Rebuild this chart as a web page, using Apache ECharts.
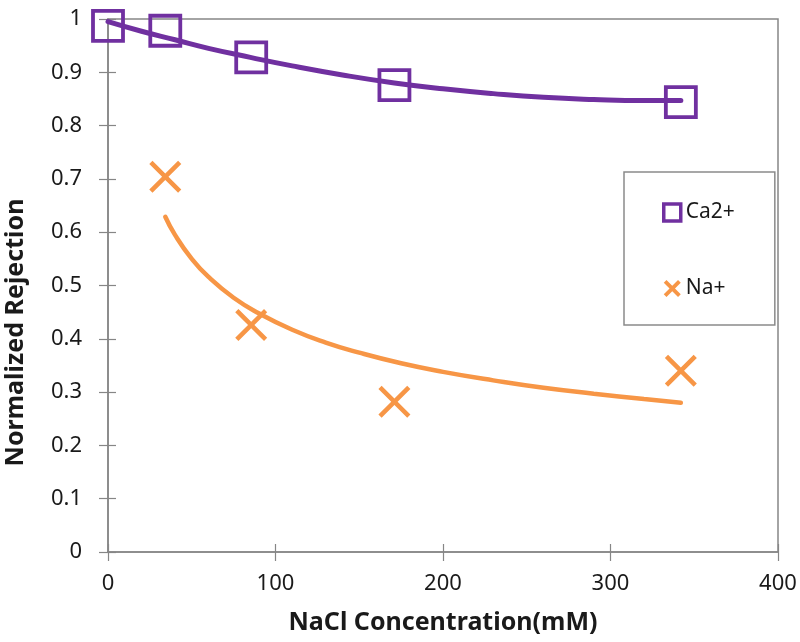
<!DOCTYPE html>
<html>
<head>
<meta charset="utf-8">
<script src="https://cdn.jsdelivr.net/npm/echarts@6/dist/echarts.min.js"></script>
<style>html,body{margin:0;padding:0;background:#fff}#c{width:800px;height:642px}</style>
</head>
<body>
<div id="c"></div>
<script>
// Measured points
var nacl = [0, 34.2, 85.5, 171, 342];
var caRejection = [0.987, 0.978, 0.928, 0.876, 0.844];
var naX = [34.2, 85.5, 171, 342];
var naRejection = [0.704, 0.426, 0.282, 0.340];

// Trend lines
var caFitX = [0, 20, 40, 60, 85, 110, 140, 171, 200, 230, 260, 290, 320, 342];
var caFitY = [0.995, 0.977, 0.961, 0.945, 0.928, 0.912, 0.895, 0.880, 0.869, 0.860, 0.853, 0.849, 0.847, 0.847];
var naFitX = [34.2, 40, 50, 60, 75, 90, 110, 130, 150, 175, 200, 230, 260, 290, 320, 342];
var naFitY = [0.629, 0.595, 0.550, 0.516, 0.477, 0.448, 0.417, 0.393, 0.374, 0.354, 0.338, 0.322, 0.308, 0.297, 0.287, 0.280];

var xTicks = [0, 100, 200, 300, 400];
var yTicks = [0, 0.1, 0.2, 0.3, 0.4, 0.5, 0.6, 0.7, 0.8, 0.9, 1];

var purple = '#7030A0', orange = '#F79646', axisGray = '#868686';
var font = 'Noto Sans';
var xPath = 'path://M0,1L1,0L5,4L9,0L10,1L6,5L10,9L9,10L5,6L1,10L0,9L4,5Z';
var xPathBold = 'path://M0,1.6L1.6,0L5,3.4L8.4,0L10,1.6L6.6,5L10,8.4L8.4,10L5,6.6L1.6,10L0,8.4L3.4,5Z';

function zip(a, b) { return a.map(function (v, i) { return [v, b[i]]; }); }

var chart = echarts.init(document.getElementById('c'), null, {renderer: 'canvas'});
var axisCommon = {
  axisLine: {show: true, lineStyle: {color: axisGray, width: 1.5}},
  splitLine: {show: false}
};
chart.setOption({
  animation: false,
  backgroundColor: '#fff',
  grid: {left: 108, right: 22, top: 19, bottom: 90, show: true, borderColor: axisGray, borderWidth: 1.5,
         containLabel: false, outerBoundsMode: 'none'},
  xAxis: [
    Object.assign({
      type: 'value', min: xTicks[0], max: xTicks[xTicks.length - 1], interval: 100, position: 'bottom',
      axisTick: {show: true, inside: false, length: 9, lineStyle: {color: axisGray, width: 1.2}},
      axisLabel: {fontFamily: font, fontSize: 22, color: '#1a1a1a', margin: 21},
      name: 'NaCl Concentration(mM)', nameLocation: 'middle', nameGap: 58,
      nameTextStyle: {fontFamily: font, fontSize: 25, fontWeight: 'bold', color: '#1a1a1a'}
    }, axisCommon),
    {
      type: 'value', min: xTicks[0], max: xTicks[xTicks.length - 1], interval: 100, position: 'bottom',
      axisLine: {show: false}, splitLine: {show: false}, axisLabel: {show: false},
      axisTick: {show: true, inside: true, length: 8, lineStyle: {color: axisGray, width: 1.2}}
    }
  ],
  yAxis: [
    Object.assign({
      type: 'value', min: yTicks[0], max: yTicks[yTicks.length - 1], interval: 0.1, position: 'left',
      axisTick: {show: true, inside: false, length: 9, lineStyle: {color: axisGray, width: 1.2}},
      axisLabel: {fontFamily: font, fontSize: 22, color: '#1a1a1a', margin: 26},
      name: 'Normalized Rejection', nameLocation: 'middle', nameGap: 80, nameRotate: 90,
      nameTextStyle: {fontFamily: font, fontSize: 25, fontWeight: 'bold', color: '#1a1a1a', padding: [0, 94, 0, 0]}
    }, axisCommon),
    {
      type: 'value', min: yTicks[0], max: yTicks[yTicks.length - 1], interval: 0.1, position: 'left',
      axisLine: {show: false}, splitLine: {show: false}, axisLabel: {show: false},
      axisTick: {show: true, inside: true, length: 8, lineStyle: {color: axisGray, width: 1.2}}
    }
  ],
  legend: {
    orient: 'vertical', left: 624, top: 172,
    padding: [30, 40, 26, 38],
    itemGap: 55, itemWidth: 17, itemHeight: 17,
    backgroundColor: '#fff', borderColor: '#8a8a8a', borderWidth: 1.5, borderRadius: 0,
    textStyle: {fontFamily: font, fontSize: 21, color: '#1a1a1a', lineHeight: 20},
    data: [
      {name: 'Ca2+', icon: 'rect', itemStyle: {color: '#fff', borderColor: purple, borderWidth: 3.5, opacity: 1}},
      {name: 'Na+', icon: xPathBold, itemStyle: {color: orange, borderWidth: 0, opacity: 1}}
    ]
  },
  series: [
    {
      name: 'Ca2+', type: 'scatter', data: zip(nacl, caRejection),
      symbol: 'rect', symbolSize: 30,
      itemStyle: {color: 'rgba(255,255,255,0)', borderColor: purple, borderWidth: 3.8, opacity: 1}
    },
    {
      name: 'Na+', type: 'scatter', data: zip(naX, naRejection),
      symbol: xPath, symbolSize: 32,
      itemStyle: {color: orange, opacity: 1}
    },
    {
      name: 'Ca2+ trend', type: 'line', data: zip(caFitX, caFitY), smooth: true,
      showSymbol: false, lineStyle: {color: purple, width: 5, cap: 'round'}, itemStyle: {color: purple}
    },
    {
      name: 'Na+ trend', type: 'line', data: zip(naFitX, naFitY), smooth: true,
      showSymbol: false, lineStyle: {color: orange, width: 4.5, cap: 'round'}, itemStyle: {color: orange}
    }
  ]
});
</script>
</body>
</html>
